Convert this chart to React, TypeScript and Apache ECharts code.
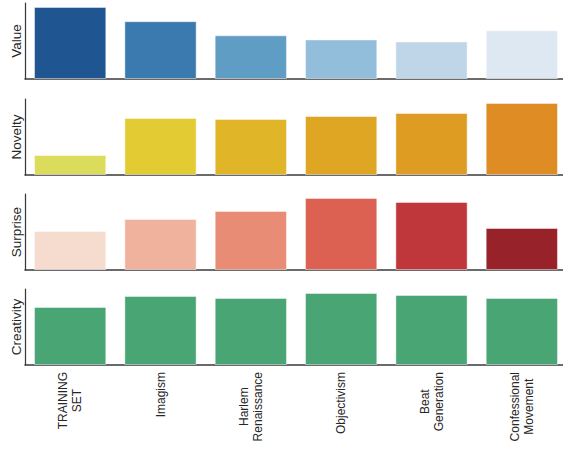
import React, { useEffect, useRef } from "react";
import * as echarts from "echarts";

const categories = ["TRAINING\nSET", "Imagism", "Harlem\nRenaissance", "Objectivism", "Beat\nGeneration", "Confessional\nMovement"];
const metrics = ["Value", "Novelty", "Surprise", "Creativity"];

const valueData = [71, 57, 43, 39, 37, 48];
const noveltyData = [20, 57, 56, 59, 62, 72];
const surpriseData = [39, 51, 59, 72, 68, 42];
const creativityData = [58, 69, 67, 72, 70, 67];

const valueColors = ["#1f5590", "#3a7aae", "#5f9dc4", "#93bedb", "#bfd6e8", "#dee8f3"];
const noveltyColors = ["#dcdc5c", "#e2cb33", "#e0b628", "#dea623", "#de9d22", "#de8c23"];
const surpriseColors = ["#f5dccf", "#f0b29c", "#e88c75", "#dc6152", "#bf373a", "#98222a"];
const creativityColors = ["#4aa574", "#4aa574", "#4aa574", "#4aa574", "#4aa574", "#4aa574"];

const seriesData = [valueData, noveltyData, surpriseData, creativityData];
const seriesColors = [valueColors, noveltyColors, surpriseColors, creativityColors];

const FONT = "Liberation Sans, Arial, sans-serif";

export default function App() {
  const ref = useRef<HTMLDivElement>(null);
  useEffect(() => {
    document.body.style.margin = "0";
    if (!ref.current) return;
    const chart = echarts.init(ref.current, undefined, { renderer: "svg" });
    const tops = [3, 99, 194, 289];
    const grids = tops.map((t) => ({ left: 25, width: 542, top: t, height: 76, outerBoundsMode: "none", containLabel: false }));
    const xAxes = metrics.map((_, i) => ({
      type: "category",
      gridIndex: i,
      data: categories,
      axisTick: { show: false },
      axisLine: { show: true, lineStyle: { color: "#3a3a3a", width: 1.5 } },
      axisLabel: i === 3
        ? {
            show: true,
            rotate: 90,
            margin: 7,
            interval: 0,
            fontFamily: FONT,
            fontSize: 12,
            color: "#262626",
            lineHeight: 14,
            formatter: (v: string) => v.split("\n").map((s) => `{c|${s}}`).join("\n"),
            rich: { c: { align: "center", fontFamily: FONT, fontSize: 12, color: "#262626", lineHeight: 14 } },
          }
        : { show: false },
    }));
    const yAxes = metrics.map((m, i) => ({
      type: "value",
      gridIndex: i,
      min: 0,
      max: (v: { max: number }) => v.max * 1.055,
      name: m,
      nameLocation: "middle",
      nameGap: 2,
      nameTextStyle: { fontFamily: FONT, fontSize: 13.5, color: "#262626" },
      axisLine: { show: true, lineStyle: { color: "#3a3a3a", width: 1.25 } },
      axisTick: { show: false },
      axisLabel: { show: false },
      splitLine: { show: false },
    }));
    const series = metrics.map((m, i) => ({
      type: "bar",
      name: m,
      xAxisIndex: i,
      yAxisIndex: i,
      barCategoryGap: "20%",
      data: seriesData[i].map((v, j) => ({
        value: v,
        itemStyle: { color: seriesColors[i][j], borderColor: "rgba(255,255,255,0.45)", borderWidth: 1 },
      })),
    }));
    chart.setOption({
      animation: false,
      backgroundColor: "#ffffff",
      grid: grids,
      xAxis: xAxes,
      yAxis: yAxes,
      series,
    });
    return () => chart.dispose();
  }, []);
  return <div ref={ref} style={{ width: 563, height: 449 }} />;
}
